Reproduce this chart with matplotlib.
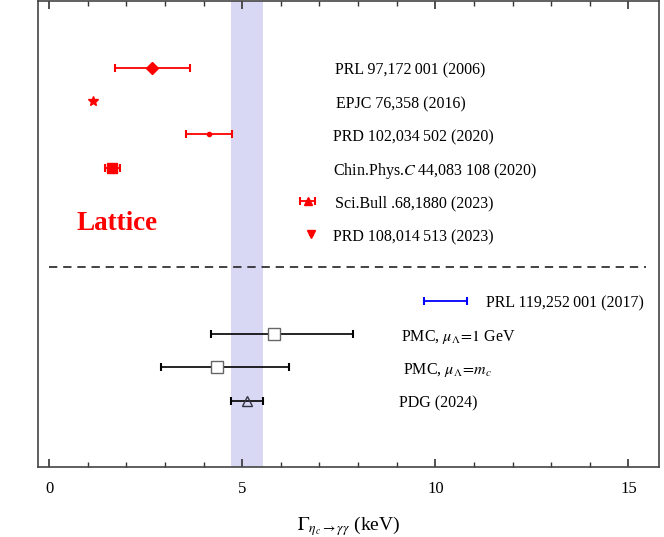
import numpy as np
import matplotlib.pyplot as plt

plt.rcParams['font.family'] = ['Liberation Serif', 'DejaVu Serif']
plt.rcParams['mathtext.fontset'] = 'stix'

# lattice results (red)
lat_labels = ['PRL 97,172\u2009001 (2006)', 'EPJC 76,358 (2016)', 'PRD 102,034\u2009502 (2020)',
              'Chin.Phys.$C$ 44,083\u2009108 (2020)', 'Sci.Bull .68,1880 (2023)', 'PRD 108,014\u2009513 (2023)']
lat_val = [2.67, 1.14, 4.13, 1.63, 6.70, 6.79]
lat_lo = [0.96, 0.0, 0.58, 0.18, 0.20, 0.03]
lat_hi = [0.98, 0.0, 0.61, 0.21, 0.19, 0.03]
lat_y = [11, 10, 9, 8, 7, 6]
lat_markers = ['D', '*', 'o', 's', '^', 'v']
lat_msize = [6, 7, 3, 7, 6, 6]
lat_caps = [3, 0, 3, 3, 3, 1.5]
lat_text_x = [7.4, 7.42, 7.35, 7.35, 7.4, 7.35]

# other results
oth_labels = ['PRL 119,252\u2009001 (2017)', r'PMC, $\mu_\Lambda\!=\!1$ GeV', r'PMC, $\mu_\Lambda\!=\!m_c$', 'PDG (2024)']
oth_val = [10.26, 5.81, 4.34, 5.12]
oth_lo = [0.56, 1.61, 1.45, 0.41]
oth_hi = [0.56, 2.06, 1.86, 0.41]
oth_y = [4, 3, 2, 1]
oth_text_x = [11.3, 9.1, 9.15, 9.05]

pdg_band = (4.71, 5.53)

fig = plt.figure(figsize=(6.64, 5.37), dpi=100)
ax = fig.add_axes([0.0565, 0.130, 0.9365, 0.868])

ax.axvspan(pdg_band[0], pdg_band[1], color='#d8d8f4', zorder=0, lw=0)

dy = -0.09  # labels sit a touch below the marks
for i in range(len(lat_val)):
    ax.errorbar(lat_val[i], lat_y[i], xerr=[[lat_lo[i]], [lat_hi[i]]], fmt=lat_markers[i],
                color='red', ms=lat_msize[i], capsize=lat_caps[i], elinewidth=1.3, capthick=1.5)
    ax.text(lat_text_x[i], lat_y[i] + dy, lat_labels[i], fontsize=11.5, va='center', ha='left')

ax.errorbar(oth_val[0], oth_y[0], xerr=[[oth_lo[0]], [oth_hi[0]]], fmt='none',
            color='blue', capsize=3, elinewidth=1.3, capthick=1.5)
ax.errorbar(oth_val[1:3], oth_y[1:3], xerr=[oth_lo[1:3], oth_hi[1:3]], fmt='s', color='black',
            mfc='white', mec='#666666', ms=8, capsize=3, elinewidth=1.2, capthick=1.5)
ax.errorbar(oth_val[3], oth_y[3], xerr=[[oth_lo[3]], [oth_hi[3]]], fmt='^', color='black',
            mfc='none', mec='#333344', ms=7, capsize=3, elinewidth=1.2, capthick=1.5)
for i in range(len(oth_val)):
    ax.text(oth_text_x[i], oth_y[i] + dy, oth_labels[i], fontsize=11.5, va='center', ha='left')

ax.text(0.72, 6.33, 'Lattice', color='red', fontsize=19.5, fontweight='bold', va='center')
ax.plot([0, 15.45], [5, 5], ls=(0, (5, 3.5)), color='#222222', lw=1.2)

ax.set_xlim(-0.3, 15.8)
ax.set_ylim(-1, 13)
ax.set_yticks([])
ax.set_xticks([0, 5, 10, 15])
ax.set_xticks(np.arange(0, 16, 1), minor=True)
ax.tick_params(axis='x', which='both', direction='in', top=True, labelsize=12, pad=10)
ax.tick_params(axis='x', which='major', length=6, width=1.2, color='#333333')
ax.tick_params(axis='x', which='minor', length=3.5, width=1.0, color='#333333')
for s in ax.spines.values():
    s.set_color('#444444')
    s.set_linewidth(1.2)
ax.set_xlabel(r'$\Gamma_{\eta_c\to\gamma\gamma}$ (keV)', fontsize=14, labelpad=12)

fig.savefig('out.png', dpi=100)
